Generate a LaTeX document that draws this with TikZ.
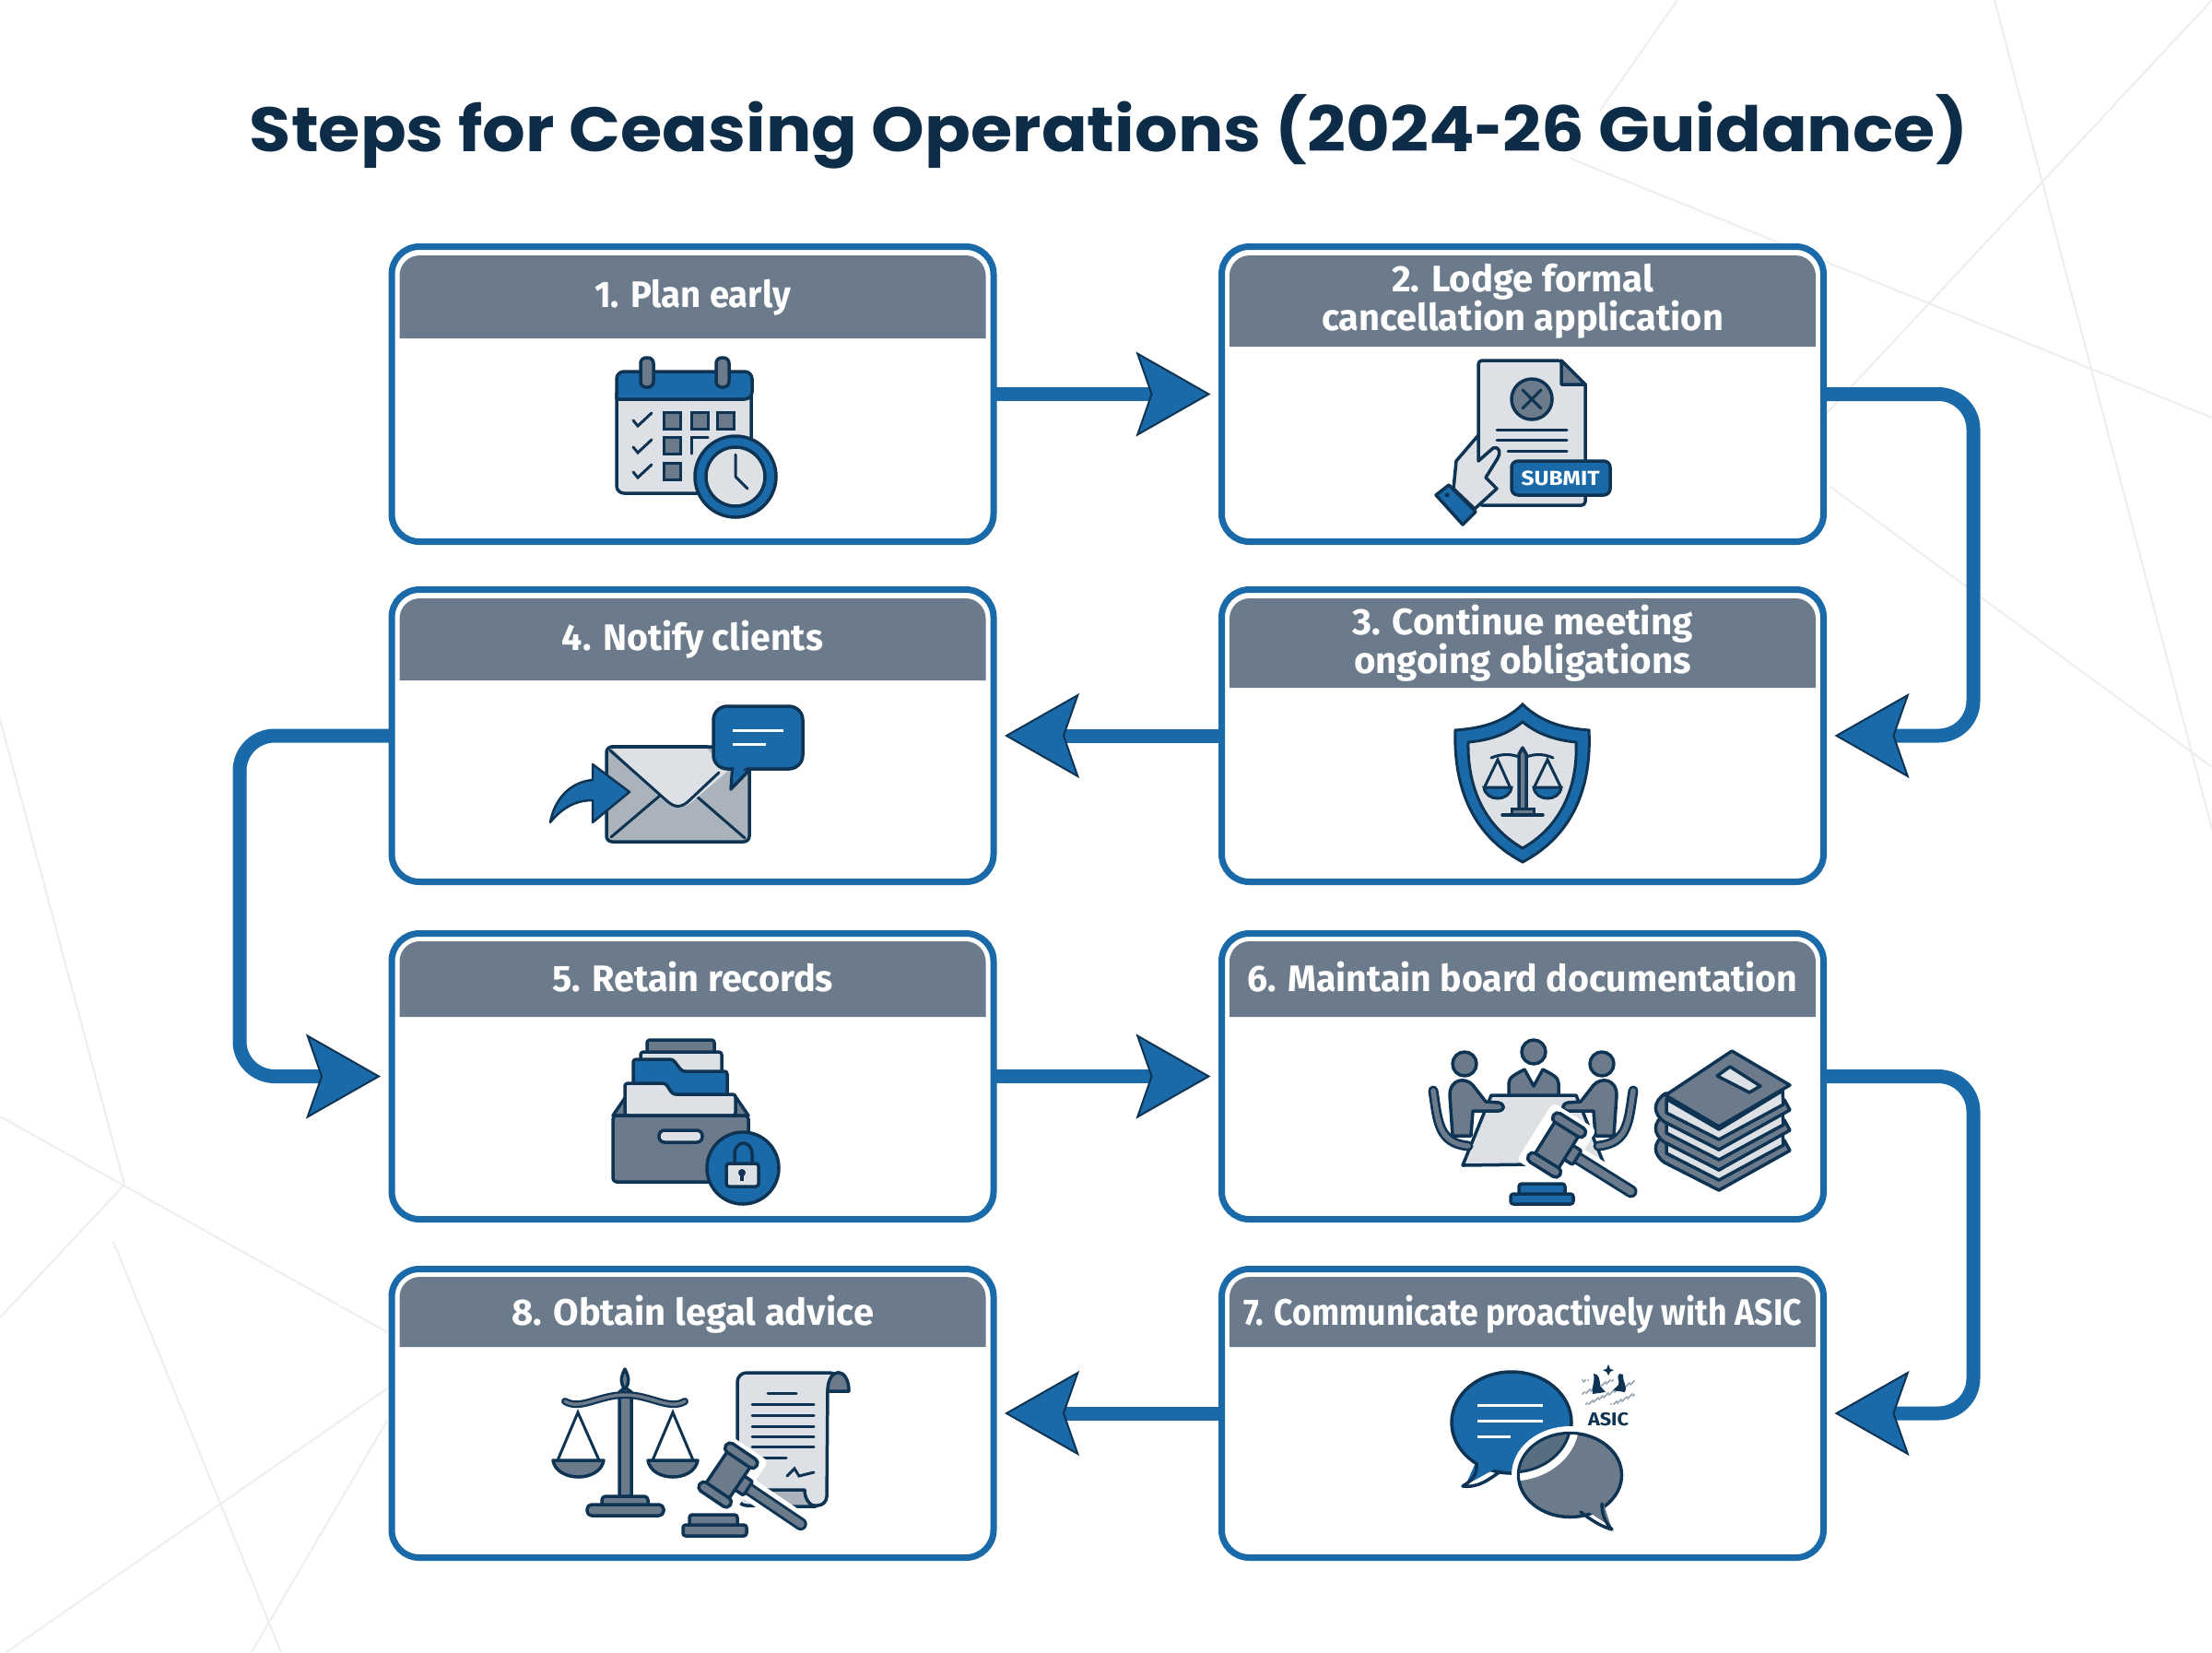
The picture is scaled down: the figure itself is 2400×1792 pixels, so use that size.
\documentclass[tikz,border=0pt]{standalone}
\usepackage{graphicx}
\usepackage{fontspec}
\setmainfont{Fira Sans}
\newfontfamily\titlefont{Poppins}
\usetikzlibrary{arrows.meta}
\definecolor{flowblue}{HTML}{1A6AA9}
\definecolor{inkdark}{HTML}{0F3453}
\definecolor{hdrgray}{HTML}{6C7B8B}
\definecolor{paperlight}{HTML}{DDE0E4}
\definecolor{midgray}{HTML}{AAB3BC}
\definecolor{faintline}{HTML}{ECEEF1}
\definecolor{titleink}{HTML}{0D2C47}
\newcommand\fitw[2]{\resizebox{#1pt}{\height}{#2}}
\tikzset{
 stepbox/.style={draw=flowblue,fill=white,line width=7pt,rounded corners=30pt,outer sep=0pt,inner sep=0pt},
 hdrtext/.style={text=white,font=\fontsize{40}{42}\selectfont\bfseries,align=center,anchor=base,inner sep=0pt},
 flow/.style={draw=flowblue,line width=15pt,rounded corners=38pt,shorten >=12pt,
   -{Stealth[length=81pt,width=92pt,inset=16pt,line width=2pt,fill=flowblue,color=inkdark]}},
 ic/.style={draw=inkdark,line width=3.5pt,line join=round,line cap=round},
 thin ic/.style={draw=inkdark,line width=3pt,line cap=round},
 bg/.style={draw=faintline,line width=2pt},
}
\newcommand\card[8]{% name, cx, cy, h, top, hdr bottom, text baseline, text
 \node[stepbox,minimum width=653pt,minimum height=#4pt] (#1) at (#2,#3) {};
 \fill[hdrgray] (#2-318,#6) [rounded corners=22pt] -- (#2-318,#5) -- (#2+318,#5) [sharp corners] -- (#2+318,#6) -- cycle;
 \node[hdrtext] (#1t) at (#2,#7) {#8};
}
\newcommand\gavelat[3]{%
 \begin{scope}[shift={(#1,#2)},rotate=#3]
  \draw[white,line width=24pt,line cap=round] (14,0) -- (95,0);
  \fill[white,rounded corners=6pt] (-28,-37) rectangle (28,37);
  \draw[inkdark,line width=14pt,line cap=round] (20,0) -- (95,0);
  \draw[hdrgray,line width=8pt,line cap=round] (20,0) -- (95,0);
  \draw[ic,fill=hdrgray,rounded corners=2pt] (14,-9) rectangle (26,9);
  \draw[ic,fill=hdrgray] (-15,-22) rectangle (15,22);
  \draw[ic,fill=hdrgray,rounded corners=5pt] (-20,-31) rectangle (20,-20);
  \draw[ic,fill=hdrgray,rounded corners=5pt] (-20,20) rectangle (20,31);
 \end{scope}}
\newcommand\boardperson{%
 \draw[inkdark,line width=11pt,line cap=round,line join=round] (1555,1183) .. controls (1560,1215) and (1560,1240) .. (1593,1243);
 \draw[hdrgray,line width=5.5pt,line cap=round,line join=round] (1555,1183) .. controls (1560,1215) and (1560,1240) .. (1593,1243);
 \draw[ic,fill=hdrgray] (1589,1154) circle[radius=13pt];
 \draw[ic,fill=hdrgray] (1576,1232) -- (1573,1188) .. controls (1573,1170) and (1590,1168) .. (1598,1177) -- (1612,1195) -- (1626,1196) .. controls (1633,1198) and (1633,1204) .. (1626,1205) -- (1598,1205) -- (1596,1232) -- cycle;
}
\begin{document}
\begin{tikzpicture}[x=1pt,y=-1pt]
\useasboundingbox (0,0) rectangle (2400,1792);
\fill[white] (0,0) rectangle (2400,1792);
% faint background lines
\draw[bg] (0,780) -- (135,1285);
\draw[bg] (0,1211) -- (420,1445);
\draw[bg] (135,1285) -- (0,1429);
\draw[bg] (123,1347) -- (305,1792);
\draw[bg] (7,1792) -- (420,1506);
\draw[bg] (273,1792) -- (420,1541);
\draw[bg] (1820,0) -- (1736,120);
\draw[bg] (2400,0) -- (1982,448);
\draw[bg] (1704,172) -- (2400,453);
\draw[bg] (2164,0) -- (2400,900);
\draw[bg] (1986,528) -- (2400,832);
% title
\node[anchor=base,inner sep=0pt,text=titleink,font=\titlefont\fontsize{68}{70}\selectfont\bfseries] (title) at (1203,164) {\fitw{1864}{Steps for Ceasing Operations (2024\scalebox{0.7}[1]{-}26 Guidance)}};
% cards
\card{b1}{751.5}{427.5}{320}{277}{367}{333}{\fitw{213}{1. Plan early}}
\card{b2}{1652}{427.5}{320}{277}{376}{358}{\fitw{284}{2. Lodge formal}\\\fitw{436}{cancellation application}}
\card{b3}{1652}{798}{317}{649}{746}{730}{\fitw{370}{3. Continue meeting}\\\fitw{366}{ongoing obligations}}
\card{b4}{751.5}{798}{317}{649}{738}{705}{\fitw{283}{4. Notify clients}}
\card{b5}{751.5}{1167.5}{310}{1021}{1103}{1075}{\fitw{305}{5. Retain records}}
\card{b6}{1652}{1167.5}{310}{1021}{1103}{1075}{\fitw{597}{6. Maintain board documentation}}
\card{b7}{1652}{1533}{313}{1385}{1461}{1437}{\fitw{606}{7. Communicate proactively with ASIC}}
\card{b8}{751.5}{1533}{313}{1385}{1461}{1437}{\fitw{393}{8. Obtain legal advice}}
% connectors
\coordinate (rt1) at (2141,798);
\coordinate (lf1) at (260,1167.5);
\coordinate (rt2) at (2141,1533);
\draw[flow] (b1) -- (b2);
\draw[flow] (b2.east) -| (rt1) -- (b3.east);
\draw[flow] (b3.west) -- (b4.east);
\draw[flow] (b4.west) -| (lf1) -- (b5.west);
\draw[flow] (b5.east) -- (b6.west);
\draw[flow] (b6.east) -| (rt2) -- (b7.east);
\draw[flow] (b7.west) -- (b8.east);
% ---- icon 1 calendar
\draw[ic,fill=paperlight,rounded corners=8pt] (669,420) rectangle (815,535);
\draw[ic,fill=flowblue,rounded corners=8pt] (669,433) -- (669,403) -- (816,403) -- (816,433) [sharp corners] -- cycle;
\foreach \x in {702,784} \draw[ic,fill=hdrgray,rounded corners=6pt] (\x-7,388) rectangle (\x+7,420);
\foreach \y in {447,476,503} \draw[thin ic] (687,\y+9) -- (692,\y+15) -- (707,\y+1);
\foreach \x/\y in {720.5/447,750/447,778.5/447,720.5/474.5,720.5/502} \draw[thin ic,fill=hdrgray] (\x,\y) rectangle ++(18,18);
\draw[thin ic] (750,492) -- (750,474.5) -- (768,474.5);
\draw[ic,fill=flowblue] (798,517) circle[radius=44pt];
\draw[ic,fill=paperlight] (798,517) circle[radius=32pt];
\draw[thin ic] (798,493) -- (798,517) -- (811,530);
% ---- icon 2 document
\draw[ic,fill=paperlight,rounded corners=4pt] (1604,548) -- (1604,391) -- (1694,391) [sharp corners] -- (1720,417) [rounded corners=4pt] -- (1720,548) -- cycle;
\draw[ic,fill=hdrgray] (1694,391) -- (1694,417) -- (1720,417) -- cycle;
\draw[ic,fill=hdrgray] (1662,433) circle[radius=22pt];
\draw[thin ic] (1652,423) -- (1672,443) (1672,423) -- (1652,443);
\draw[thin ic] (1624,466) -- (1700,466) (1624,477) -- (1700,477) (1636,489) -- (1700,489);
\draw[ic,fill=paperlight] (1577,530) -- (1580,500) -- (1604,472) -- (1604,500) -- (1620,486) .. controls (1628,484) and (1628,492) .. (1625,497) -- (1612,518) -- (1624,530) -- (1600,552) -- cycle;
\draw[ic,fill=flowblue] (1558,537) -- (1572,526) -- (1601,555) -- (1587,569) -- cycle;
\fill[inkdark] (1570,537) circle[radius=2.5pt];
\draw[ic,fill=flowblue,rounded corners=7pt] (1640,500) rectangle (1747,537);
\node[text=white,font=\fontsize{22}{24}\selectfont\bfseries,inner sep=0pt] (submit) at (1693,519) {\fitw{85}{SUBMIT}};
% ---- icon 3 shield
\draw[draw=inkdark,line width=3pt,fill=flowblue,line join=miter] (1652,764) .. controls (1630,785) and (1605,790) .. (1579,792) .. controls (1577,850) and (1595,905) .. (1652,935) .. controls (1709,905) and (1727,850) .. (1724,792) .. controls (1699,790) and (1674,785) .. (1652,764) -- cycle;
\draw[draw=inkdark,line width=3pt,fill=paperlight,line join=miter] (1652,783) .. controls (1635,797) and (1615,803) .. (1593,805) .. controls (1592,850) and (1608,895) .. (1652,920) .. controls (1696,895) and (1712,850) .. (1710,805) .. controls (1689,803) and (1669,797) .. (1652,783) -- cycle;
\draw[ic,fill=hdrgray] (1648,883) -- (1648,818) -- (1652,811) -- (1656,818) -- (1656,883) -- cycle;
\draw[thin ic] (1618,822) .. controls (1630,817) and (1640,818) .. (1648,821);
\draw[thin ic] (1656,821) .. controls (1664,818) and (1674,817) .. (1685,822);
\draw[thin ic] (1611,853) -- (1625,824) -- (1638,853) (1665,853) -- (1679,824) -- (1693,853);
\draw[thin ic,fill=flowblue] (1610,854) .. controls (1612,870) and (1638,870) .. (1640,854) -- cycle;
\draw[thin ic,fill=flowblue] (1664,854) .. controls (1666,870) and (1692,870) .. (1694,854) -- cycle;
\draw[thin ic,fill=hdrgray] (1640,877) rectangle (1664,884);
\draw[ic] (1630,884) -- (1674,884);
% ---- icon 4 envelope
\draw[ic,fill=midgray,rounded corners=6pt] (658,810) rectangle (813,913);
\draw[thin ic] (663,908) -- (716,863) (808,909) -- (755,863);
\fill[paperlight] (664,812) -- (767,812) -- (790,836) -- (748,872) .. controls (738,877) and (735,877) .. (725,872) -- cycle;
\draw[thin ic] (662,814) -- (725,870) .. controls (733,876) and (738,876) .. (746,870) -- (780,838);
\draw[ic] (664,810) -- (767,810);
\fill[flowblue,draw=inkdark,line width=2.5pt,line join=round] (597,892) .. controls (602,865) and (620,848) .. (643,846) -- (643,829) -- (683,859) -- (643,892) -- (643,868) .. controls (625,868) and (610,876) .. (597,892) -- cycle;
\draw[ic,fill=flowblue] (795,830) -- (793,856) -- (818,830);
\draw[ic,fill=flowblue,rounded corners=15pt] (774,766) rectangle (871,834);
\fill[flowblue] (797,828) -- (795,846) -- (814,828) -- cycle;
\draw[white,line width=3pt] (795,792) -- (850,792) (795,807) -- (831,807);
% ---- icon 5 archive
\draw[ic,fill=hdrgray,rounded corners=3pt] (702,1145) -- (702,1128) -- (775,1128) -- (775,1145);
\draw[ic,fill=paperlight,rounded corners=3pt] (695,1165) -- (695,1141) -- (783,1141) -- (783,1165);
\draw[ic,fill=flowblue,rounded corners=3pt] (687,1195) -- (687,1149) -- (730,1149) -- (740,1162) -- (789,1162) -- (789,1195) -- cycle;
\draw[ic,fill=hdrgray] (665,1210) -- (680,1188) -- (797,1188) -- (812,1210) -- cycle;
\draw[ic,fill=paperlight,rounded corners=3pt] (678,1210) -- (678,1175) -- (722,1175) -- (730,1187) -- (798,1187) -- (798,1210) -- cycle;
\draw[ic,fill=hdrgray,rounded corners=4pt] (665,1210) rectangle (812,1282);
\draw[ic,fill=paperlight,rounded corners=6pt] (715,1226) rectangle (762,1239);
\draw[ic,fill=flowblue] (806,1267) circle[radius=39pt];
\draw[ic] (797,1262) -- (797,1252) .. controls (797,1236) and (816,1236) .. (816,1252) -- (816,1262);
\draw[ic,fill=paperlight,rounded corners=3pt] (788,1262) rectangle (823,1287);
\fill[inkdark] (805,1272) circle[radius=4pt];
\draw[inkdark,line width=3.5pt] (805,1272) -- (805,1281);
% ---- icon 6 board + books
\draw[ic,fill=hdrgray] (1664,1141) circle[radius=13pt];
\draw[ic,fill=hdrgray] (1637,1190) -- (1637,1175) .. controls (1637,1168) and (1645,1165) .. (1654,1160) -- (1664,1178) -- (1674,1160) .. controls (1683,1165) and (1691,1168) .. (1691,1175) -- (1691,1190) -- cycle;
\draw[ic,fill=paperlight] (1618,1188) -- (1710,1188) -- (1740,1262) -- (1587,1264) -- cycle;
\boardperson
\begin{scope}[shift={(3327,0)},xscale=-1]\boardperson\end{scope}
\gavelat{1689}{1242}{-32}
\draw[ic,fill=flowblue,rounded corners=3pt] (1648,1295) -- (1648,1284) -- (1698,1284) -- (1698,1295);
\draw[ic,fill=flowblue,rounded corners=3pt] (1639,1295) rectangle (1707,1306);
\foreach \d in {44,22,0}{
 \draw[ic,fill=hdrgray] (1807,1186+\d) .. controls (1793,1195+\d) and (1793,1208+\d) .. (1806,1217+\d) -- (1865,1247+\d) -- (1942,1204+\d) -- (1936,1193+\d) -- cycle;
 \draw[ic,fill=paperlight] (1808,1192+\d) -- (1865,1225+\d) -- (1934,1183+\d) -- (1935,1198+\d) -- (1865,1236+\d) -- (1808,1207+\d) -- cycle;
}
\draw[ic,fill=hdrgray] (1879,1140) -- (1942,1177) -- (1865,1222) -- (1807,1188) -- cycle;
\draw[ic,fill=paperlight] (1877,1157) -- (1910,1178) -- (1898,1185) -- (1863,1167) -- cycle;
% ---- icon 7 speech bubbles + crest
\draw[ic,fill=flowblue] (1640,1543) ellipse[x radius=65pt,y radius=55pt];
\fill[flowblue] (1604,1580) -- (1590,1611) -- (1628,1590) -- cycle;
\draw[ic] (1602,1587) .. controls (1603,1600) and (1597,1606) .. (1587,1612) .. controls (1605,1614) and (1616,1604) .. (1628,1596);
\draw[white,line width=3pt] (1603,1524) -- (1674,1524) (1603,1541) -- (1674,1541) (1603,1558) -- (1639,1558);
\draw[white,line width=15pt] (1703.5,1600) ellipse[x radius=56pt,y radius=45.5pt];
\draw[ic,fill=hdrgray] (1703.5,1600) ellipse[x radius=56pt,y radius=45.5pt];
\fill[hdrgray] (1716,1635) -- (1748,1656) -- (1738,1625) -- cycle;
\draw[ic] (1715,1640) .. controls (1728,1650) and (1738,1656) .. (1749,1659) .. controls (1740,1650) and (1738,1640) .. (1738,1631);
\begin{scope}
 \clip (1703.5,1600) ellipse[x radius=54.5pt,y radius=44pt];
 \draw[white,line width=9pt,fill=hdrgray!80!inkdark] (1640,1543) ellipse[x radius=69pt,y radius=59pt];
 \draw[inkdark,line width=3pt] (1640,1543) ellipse[x radius=64pt,y radius=54pt];
\end{scope}
\fill[inkdark] (1745,1480) -- (1747,1485) -- (1751,1486) -- (1747,1488) -- (1745,1492) -- (1743,1488) -- (1739,1486) -- (1743,1485) -- cycle;
\foreach \i in {0,...,110}{
 \pgfmathsetmacro\cx{1717+mod(\i*37,57)}
 \pgfmathsetmacro\cy{1497+mod(\i*23,27)}
 \fill[inkdark!65] (\cx,\cy) circle[radius=0.9pt];
}
\fill[inkdark] (1729,1490) .. controls (1735,1490) and (1736,1497) .. (1736,1503) -- (1742,1510) -- (1728,1512) .. controls (1726,1505) and (1731,1500) .. (1729,1490) -- cycle;
\fill[inkdark] (1757,1490) .. controls (1753,1494) and (1758,1498) .. (1756,1502) -- (1750,1508) -- (1763,1510) .. controls (1766,1503) and (1760,1498) .. (1761,1491) -- cycle;
\node[text=inkdark,font=\fontsize{20}{22}\selectfont\bfseries,inner sep=0pt] (asic) at (1745,1540) {\fitw{44}{ASIC}};
% ---- icon 8 scales + scroll
\draw[ic,fill=paperlight,rounded corners=10pt] (873,1633) -- (800,1633) -- (800,1489) -- (910,1489) -- (898,1500) -- (897,1633) -- cycle;
\draw[ic,fill=hdrgray] (898,1509) .. controls (898,1482) and (921,1482) .. (921,1509) -- cycle;
\draw[ic,fill=midgray] (830,1616) -- (873,1616) .. controls (873,1625) and (878,1633) .. (885,1634) -- (830,1634) -- cycle;
\draw[thin ic] (833,1511) -- (864,1511) (816,1523) -- (883,1523) (816,1535) -- (883,1535) (816,1547) -- (883,1547) (816,1558) -- (883,1558) (816,1569) -- (883,1569) (828,1581) -- (853,1581);
\draw[thin ic] (854,1601) -- (862,1593) -- (867,1601) -- (883,1597);
\gavelat{790}{1600}{-34}
\draw[ic,fill=hdrgray,rounded corners=3pt] (748,1654) -- (748,1643) -- (800,1643) -- (800,1654);
\draw[ic,fill=hdrgray,rounded corners=3pt] (741,1654) rectangle (810,1666);
\draw[ic,fill=hdrgray] (672,1623) -- (672,1510) -- (678,1505) -- (685,1510) -- (685,1623) -- cycle;
\draw[ic,fill=hdrgray] (678,1485) .. controls (673,1495) and (673,1500) .. (678,1507) .. controls (683,1500) and (683,1495) .. (678,1485) -- cycle;
\draw[inkdark,line width=8pt,line cap=round] (613,1520) .. controls (630,1530) and (650,1513) .. (678,1513) .. controls (706,1513) and (726,1530) .. (743,1520);
\draw[hdrgray,line width=3.5pt,line cap=round] (613,1520) .. controls (630,1530) and (650,1513) .. (678,1513) .. controls (706,1513) and (726,1530) .. (743,1520);
\draw[thin ic] (605,1584) -- (627,1532) -- (650,1584) (708,1584) -- (730,1532) -- (752,1584);
\draw[ic,fill=hdrgray] (600,1584) .. controls (604,1608) and (651,1608) .. (655,1584) -- cycle;
\draw[ic,fill=hdrgray] (703,1584) .. controls (707,1608) and (753,1608) .. (757,1584) -- cycle;
\draw[ic,fill=hdrgray,rounded corners=4pt] (653,1632) -- (653,1623) -- (703,1623) -- (703,1632);
\draw[ic,fill=hdrgray,rounded corners=5pt] (637,1632) rectangle (720,1644);
\end{tikzpicture}
\end{document}
